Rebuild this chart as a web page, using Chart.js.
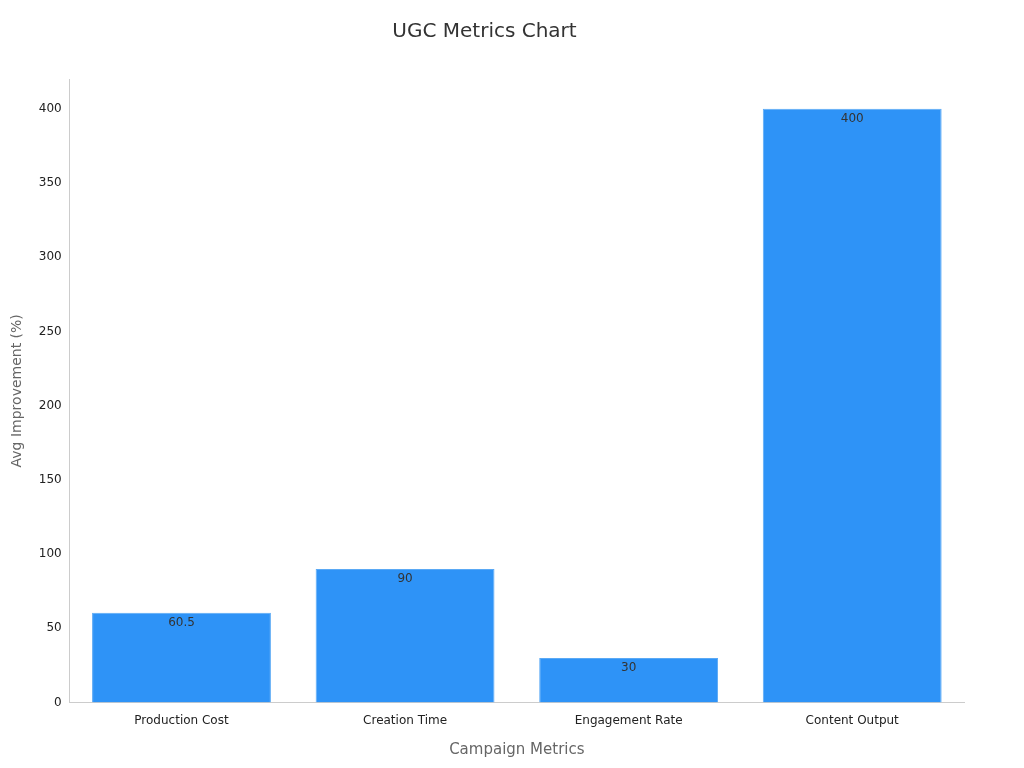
<!DOCTYPE html>
<html><head><meta charset="utf-8">
<script src="https://cdn.jsdelivr.net/npm/chart.js@4"></script>
<style>html,body{margin:0;background:#fff}#w{width:1024px;height:768px}</style>
</head><body><div id="w"><canvas id="c"></canvas></div>
<script>
const categories = ["Production Cost","Creation Time","Engagement Rate","Content Output"];
const values = [60.5, 90, 30, 400];
const yTicks = [0,50,100,150,200,250,300,350,400];

const labelPlugin = {
  id:'lbl',
  afterDatasetsDraw(chart){
    const ctx=chart.ctx, meta=chart.getDatasetMeta(0);
    ctx.save();ctx.font='12px "DejaVu Sans"';ctx.fillStyle='#333';ctx.textAlign='center';ctx.textBaseline='top';
    meta.data.forEach((b,i)=>ctx.fillText(String(values[i]),b.x,b.y+4));
    ctx.restore();
  }
};
new Chart(document.getElementById('c'),{
  type:'bar',
  data:{labels:categories,datasets:[{data:values,backgroundColor:'#2E93F7',borderColor:'#5AA9F5',borderWidth:1,barPercentage:0.8,categoryPercentage:1}]},
  options:{responsive:true,maintainAspectRatio:false,animation:false,
    layout:{padding:{top:10,right:60,left:5,bottom:5}},
    plugins:{legend:{display:false},tooltip:{enabled:false},
      title:{display:true,text:'UGC Metrics Chart',font:{family:'DejaVu Sans',size:20,weight:'normal'},color:'#333',padding:{top:10,bottom:35}}},
    scales:{
      x:{grid:{display:false,drawTicks:true},border:{color:'#ccc'},ticks:{color:'#222',font:{family:'DejaVu Sans',size:12}},
        title:{display:true,text:'Campaign Metrics',color:'#666',font:{family:'DejaVu Sans',size:15},padding:{top:10}}},
      y:{min:0,max:420,afterBuildTicks(a){a.ticks=yTicks.map(v=>({value:v}));},
        grid:{display:false,drawTicks:true,tickLength:5},border:{color:'#ccc'},
        ticks:{color:'#222',font:{family:'DejaVu Sans',size:12}},
        title:{display:true,text:'Avg Improvement (%)',color:'#666',font:{family:'DejaVu Sans',size:14},padding:{bottom:10}}}
    }},
  plugins:[labelPlugin]
});
</script></body></html>
